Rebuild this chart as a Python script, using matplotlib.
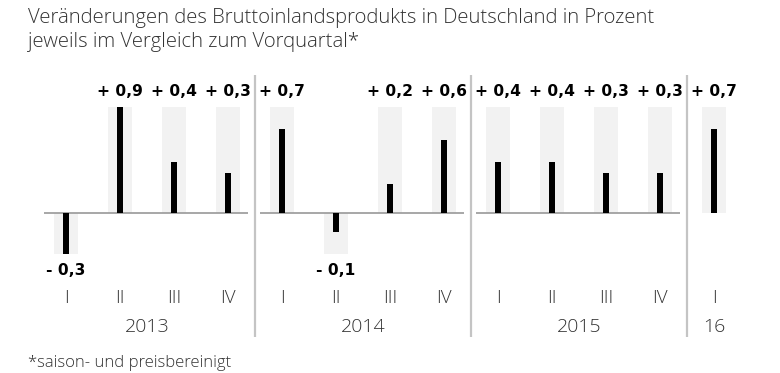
import numpy as np
import matplotlib
matplotlib.use("Agg")
import matplotlib.pyplot as plt

# Quarterly GDP change, percent vs previous quarter
years = ["2013", "2014", "2015", "16"]
quarters = ["I", "II", "III", "IV",
            "I", "II", "III", "IV",
            "I", "II", "III", "IV",
            "I"]
year_of = [0, 0, 0, 0, 1, 1, 1, 1, 2, 2, 2, 2, 3]
values = [-0.3, 0.9, 0.4, 0.3,
          0.7, -0.1, 0.2, 0.6,
          0.4, 0.4, 0.3, 0.3,
          0.7]
value_labels = ["- 0,3", "+ 0,9", "+ 0,4", "+ 0,3",
                "+ 0,7", "- 0,1", "+ 0,2", "+ 0,6",
                "+ 0,4", "+ 0,4", "+ 0,3", "+ 0,3",
                "+ 0,7"]

W, H, DPI = 780, 373, 100
fig = plt.figure(figsize=(W / DPI, H / DPI), dpi=DPI)
ax = fig.add_axes([0, 0, 1, 1])

# pixel geometry: bar i centred at 66 + 54*i, baseline at 213 px from top
step = 54.0
unit = 108.7
x0, base = 66.0, 213.3
ax.set_xlim(-x0 / step, (W - x0) / step)
ax.set_ylim(-(H - base) / unit, base / unit)
ax.axis("off")

pad = 0.074          # bars overshoot their value slightly, as in the original
vmax = max(values)
vmin = min(values)

for i, v in enumerate(values):
    if v >= 0:
        ax.bar(i, vmax + pad, width=0.444, color="#f2f2f2", zorder=1)
        ax.bar(i, v + pad, width=0.111, color="black", zorder=3)
    else:
        ax.bar(i, vmin - pad, width=0.444, color="#f2f2f2", zorder=1)
        ax.bar(i, v - pad, width=0.111, color="black", zorder=3)

# baselines per year group (none under the single 2016 quarter)
for g in range(len(years)):
    idx = [i for i in range(len(values)) if year_of[i] == g]
    if len(idx) > 1:
        ax.hlines(0, idx[0] - 0.41, idx[-1] + 0.37, color="#a0a0a0",
                  lw=1.3, zorder=2)

tx = ax.get_xaxis_transform()
label_font = "DejaVu Sans"
text_font = "Open Sans"
text_color = "#333333"

for i, (v, lab) in enumerate(zip(values, value_labels)):
    yy = 0.754 if v >= 0 else 0.276
    ax.text(i, yy, lab, transform=tx, ha="center", va="center",
            fontsize=11.2, fontweight="bold", family=label_font, color="black")
    ax.text(i, 1 - 298 / H, quarters[i], transform=tx, ha="center",
            va="center", fontsize=13.5, family=text_font, fontweight="light",
            color=text_color)

# year labels and separators
for g, yr in enumerate(years):
    idx = [i for i in range(len(values)) if year_of[i] == g]
    ax.text(np.mean(idx), 1 - 327 / H, yr, transform=tx, ha="center",
            va="center", fontsize=14, family=text_font, fontweight="light",
            color=text_color)
    if g > 0:
        ax.vlines(idx[0] - 0.5, 0.0965, 0.799, transform=tx,
                  color="#c4c4c4", lw=1.6)

fig.text(28 / W, 1 - 18 / H,
         "Veränderungen des Bruttoinlandsprodukts in Deutschland in Prozent",
         ha="left", va="center", fontsize=14.6, family=text_font,
         fontweight="light", color=text_color)
fig.text(28 / W, 1 - 42 / H, "jeweils im Vergleich zum Vorquartal*",
         ha="left", va="center", fontsize=14.6, family=text_font,
         fontweight="light", color=text_color)
fig.text(28 / W, 1 - 363 / H, "*saison- und preisbereinigt",
         ha="left", va="center", fontsize=12, family=text_font,
         fontweight="light", color=text_color)

fig.savefig("out.png", dpi=DPI)
